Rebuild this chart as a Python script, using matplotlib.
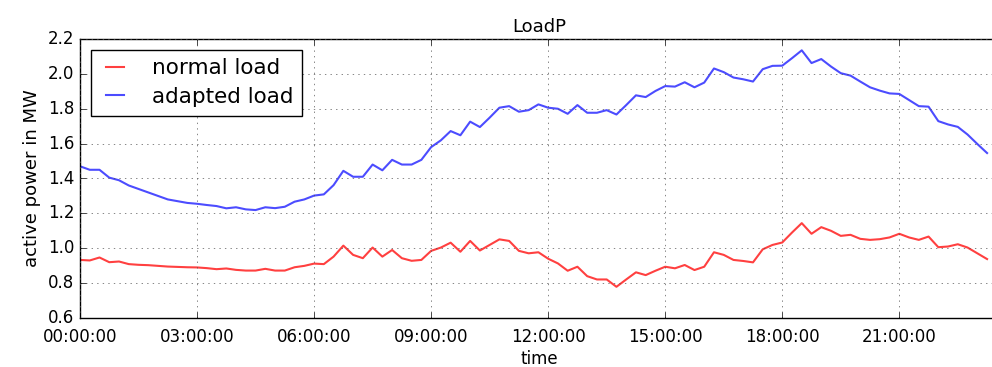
import matplotlib
matplotlib.use("Agg")
import matplotlib.pyplot as plt
import matplotlib.dates as mdates
import pandas as pd
import numpy as np

plt.style.use("classic")

# 15-minute samples starting at 00:00:00
start_time = "2016-01-01 00:00:00"

normal_load = [
    0.933, 0.930, 0.947, 0.920, 0.924, 0.909, 0.905, 0.903, 0.899, 0.895,
    0.893, 0.891, 0.890, 0.886, 0.880, 0.884, 0.876, 0.872, 0.872, 0.882,
    0.872, 0.872, 0.891, 0.899, 0.912, 0.909, 0.952, 1.015, 0.962, 0.943,
    1.004, 0.952, 0.990, 0.943, 0.928, 0.933, 0.985, 1.004, 1.032, 0.980,
    1.042, 0.987, 1.019, 1.051, 1.042, 0.985, 0.971, 0.977, 0.940, 0.913,
    0.871, 0.894, 0.840, 0.821, 0.821, 0.779, 0.821, 0.862, 0.846, 0.871,
    0.894, 0.885, 0.904, 0.875, 0.894, 0.977, 0.962, 0.933, 0.927, 0.919,
    0.994, 1.019, 1.033, 1.090, 1.144, 1.083, 1.121, 1.100, 1.071, 1.077,
    1.054, 1.048, 1.052, 1.062, 1.083, 1.062, 1.048, 1.067, 1.006, 1.010,
    1.023, 1.004, 0.971, 0.938,
]

adapted_load = [
    1.470, 1.450, 1.450, 1.405, 1.390, 1.360, 1.340, 1.320, 1.300, 1.280,
    1.270, 1.260, 1.255, 1.248, 1.242, 1.229, 1.235, 1.223, 1.219, 1.235,
    1.230, 1.238, 1.267, 1.280, 1.302, 1.309, 1.362, 1.444, 1.410, 1.410,
    1.480, 1.447, 1.507, 1.480, 1.480, 1.507, 1.580, 1.619, 1.672, 1.648,
    1.726, 1.695, 1.749, 1.806, 1.815, 1.783, 1.792, 1.825, 1.806, 1.800,
    1.771, 1.821, 1.777, 1.777, 1.792, 1.767, 1.821, 1.877, 1.867, 1.902,
    1.930, 1.927, 1.952, 1.923, 1.950, 2.031, 2.010, 1.979, 1.969, 1.956,
    2.027, 2.046, 2.047, 2.090, 2.135, 2.062, 2.085, 2.042, 2.004, 1.990,
    1.956, 1.923, 1.904, 1.888, 1.885, 1.850, 1.815, 1.812, 1.729, 1.710,
    1.696, 1.652, 1.598, 1.546,
]

times = pd.date_range(start_time, periods=len(normal_load), freq="15min")

fig = plt.figure(figsize=(9.92, 3.67), dpi=100, facecolor="white")
ax = fig.add_axes([80 / 992, 1 - 318 / 367, 918 / 992, (318 - 39) / 367])
ax.set_facecolor("white")

ax.plot(times, normal_load, color="red", alpha=0.75, lw=1.5, label="normal load")
ax.plot(times, adapted_load, color="blue", alpha=0.7, lw=1.5, label="adapted load")

t0 = pd.Timestamp(start_time)
ax.set_xlim(t0, t0 + pd.Timedelta(hours=23.53))
ax.set_ylim(0.6, 2.2)
ax.set_yticks(np.arange(0.6, 2.21, 0.2))
ax.xaxis.set_major_locator(mdates.HourLocator(byhour=range(0, 24, 3)))
ax.xaxis.set_major_formatter(mdates.DateFormatter("%H:%M:%S"))
ax.grid(True, linestyle=":", color="#555555")

ax.set_title("LoadP", fontsize=13)
ax.set_xlabel("time", fontsize=12, labelpad=3)
ax.set_ylabel("active power in MW", fontsize=13)
ax.tick_params(axis="y", labelsize=12)
ax.tick_params(axis="x", labelsize=12, pad=7)

leg = ax.legend(loc="upper left", fontsize=15.5, handlelength=1.45,
                handletextpad=1.0, labelspacing=0.4, borderpad=0.4,
                borderaxespad=0.5, fancybox=False)
leg.get_frame().set_edgecolor("black")

fig.savefig("out.png", dpi=100, facecolor="white")
